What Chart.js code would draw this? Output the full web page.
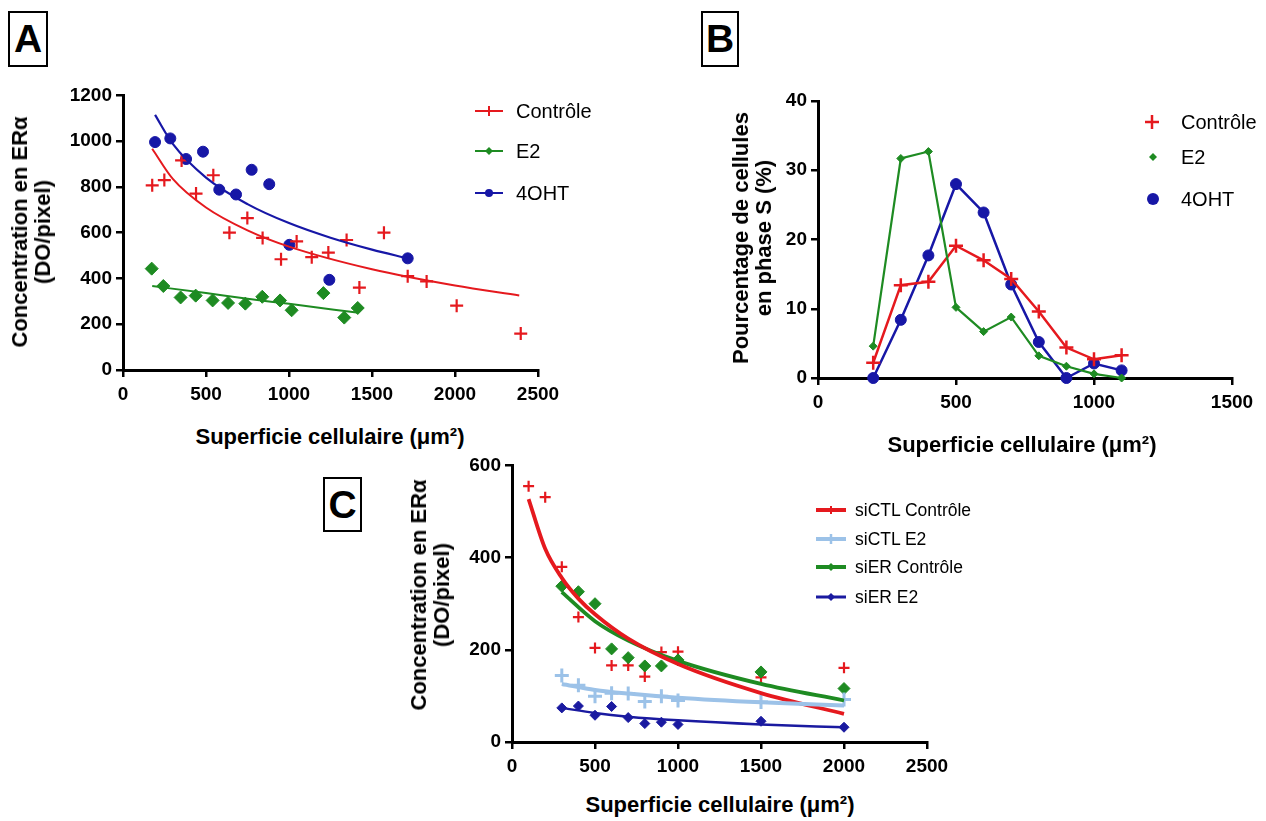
<!DOCTYPE html>
<html>
<head>
<meta charset="utf-8">
<script src="https://cdn.jsdelivr.net/npm/chart.js@4.4.0/dist/chart.umd.min.js"></script>
<style>
  html,body{margin:0;padding:0;background:#fff;}
  body{width:1266px;height:821px;position:relative;overflow:hidden;font-family:"Liberation Sans",Arial,sans-serif;color:#000;}
  canvas{position:absolute;}
  .box{position:absolute;box-sizing:border-box;border:2px solid #000;font-weight:bold;font-size:39px;text-align:center;line-height:51px;}
  .ytitle{position:absolute;font-weight:bold;font-size:22px;line-height:23px;text-align:center;white-space:nowrap;transform:translate(-50%,-50%) rotate(-90deg);}
  .xtitle{position:absolute;font-weight:bold;font-size:22px;white-space:nowrap;transform:translate(-50%,-50%);}
  .leg{position:absolute;white-space:nowrap;transform:translateY(-50%);}
  .legsym{position:absolute;transform:translateY(-50%);}
</style>
</head>
<body>
<div class="box" style="left:8px;top:11px;width:40px;height:56px;">A</div>
<div class="box" style="left:701px;top:11px;width:38px;height:56px;">B</div>
<div class="box" style="left:323px;top:477px;width:39px;height:55px;">C</div>

<canvas id="cA" width="570" height="330" style="left:0px;top:80px;"></canvas>
<canvas id="cB" width="626" height="330" style="left:640px;top:80px;"></canvas>
<canvas id="cC" width="530" height="330" style="left:440px;top:450px;"></canvas>

<div class="ytitle" style="left:31px;top:232px;">Concentration en ERα<br>(DO/pixel)</div>
<div class="xtitle" style="left:330px;top:437px;">Superficie cellulaire (μm²)</div>
<div class="ytitle" style="left:752px;top:238px;">Pourcentage de cellules<br>en phase S (%)</div>
<div class="xtitle" style="left:1022px;top:445px;">Superficie cellulaire (μm²)</div>
<div class="ytitle" style="left:430px;top:595px;">Concentration en ERα<br>(DO/pixel)</div>
<div class="xtitle" style="left:720px;top:805px;">Superficie cellulaire (μm²)</div>

<div id="legends"></div>

<script>
// ---------- Panel A data ----------
const A_ctrl_x = [176,249,353,440,544,641,749,841,952,1046,1137,1237,1347,1424,1572,1715,1829,2010,2396];
const A_ctrl_y = [807,830,916,771,851,600,664,577,484,562,493,513,568,360,600,410,387,281,159];
const A_e2_x = [173,243,347,438,540,633,737,839,946,1016,1207,1333,1414];
const A_e2_y = [443,367,317,325,304,293,290,320,304,261,336,229,271];
const A_oht_x = [193,285,380,482,580,681,775,881,1002,1243,1715];
const A_oht_y = [996,1012,922,954,788,767,875,812,547,394,488];
// fitted curves
const A_ctrlFit_x = [176,300,500,750,1000,1500,2000,2387];
const A_ctrlFit_y = [967,835,710,610,539,440,369,326];
const A_e2Fit_x = [176,500,750,1000,1408];
const A_e2Fit_y = [367,336,311,289,251];
const A_ohtFit_x = [193,300,500,750,1000,1250,1500,1715];
const A_ohtFit_y = [1115,988,841,725,642,578,526,488];

// ---------- Panel B data ----------
const B_sizes = [200,300,400,500,600,700,800,900,1000,1100];
const B_ctrl = [2.2,13.4,13.9,19.1,17.0,14.3,9.6,4.4,2.7,3.3];
const B_e2 = [4.6,31.7,32.7,10.2,6.7,8.8,3.2,1.7,0.6,0];
const B_oht = [0,8.4,17.7,28.0,23.9,13.5,5.2,0,2.1,1.1];

// ---------- Panel C data ----------
const C_ctlCtrl_x = [100,200,300,400,500,600,700,800,900,1000,1500,2000];
const C_ctlCtrl_y = [555,531,380,271,204,166,166,142,195,196,140,161];
const C_sizes = [300,400,500,600,700,800,900,1000,1500,2000];
const C_ctlE2_y = [144,123,99,106,105,88,99,90,87,92];
const C_erCtrl_y = [338,326,300,202,183,165,165,178,152,116];
const C_erE2_y = [74,78,58,77,53,40,43,38,45,32];
const C_ctlCtrlFit_x = [100,200,300,400,500,700,1000,1500,2000];
const C_ctlCtrlFit_y = [527,419,356,311,277,224,169,106,61];
const C_fit_x = [300,500,700,1000,1500,2000];
const C_ctlE2Fit_y = [126,113,105,96,86,79];
const C_erCtrlFit_y = [325,262,220,176,126,90];
const C_erE2Fit_y = [74,63,55,47,38,32];

// ---------- tick labels ----------
const A_xTicks = [0,500,1000,1500,2000,2500];
const A_yTicks = [0,200,400,600,800,1000,1200];
const B_xTicks = [0,500,1000,1500];
const B_yTicks = [0,10,20,30,40];
const C_xTicks = [0,500,1000,1500,2000,2500];
const C_yTicks = [0,200,400,600];

// ---------- colours ----------
const RED = '#E5191E', GREEN = '#1E8B22', BLUE = '#1717A6', LBLUE = '#9CC2E8', DBLUE = '#1A1AA0';

function pts(xs, ys){ return xs.map((x,i)=>({x:x, y:ys[i]})); }

function scaleOpts(ticksArr, fit, isX){
  return {
    type:'linear',
    min: ticksArr[0], max: ticksArr[ticksArr.length-1],
    afterBuildTicks: s => { s.ticks = ticksArr.map(v=>({value:v})); },
    ticks:{ color:'#000', autoSkip:false, padding: isX ? 6 : 4, maxRotation:0,
            callback: v => String(v),
            font:{family:'Liberation Sans', size:19, weight:'bold'} },
    grid:{ display:true, drawOnChartArea:false, drawTicks:true, tickLength:7, color:'#000', lineWidth:2.5 },
    border:{ display:true, color:'#000', width:3 },
    afterFit: s => { if(isX) s.height = fit; else s.width = fit; }
  };
}

function scatterDs(data, color, style, r, bw){
  return { type:'scatter', data:data, showLine:false, pointStyle:style, pointRadius:r,
           pointBorderWidth:bw, pointBackgroundColor:color, pointBorderColor:color, clip:false };
}
function curveDs(data, color, w){
  return { type:'scatter', data:data, showLine:true, borderColor:color, borderWidth:w,
           pointRadius:0, cubicInterpolationMode:'monotone', fill:false, clip:false };
}
function lineMarkDs(data, color, style, r, bw, w){
  return { type:'scatter', data:data, showLine:true, borderColor:color, borderWidth:w, tension:0,
           pointStyle:style, pointRadius:r, pointBorderWidth:bw,
           pointBackgroundColor:color, pointBorderColor:color, clip:false };
}

function makeChart(id, datasets, xT, yT, yW, xH, pad){
  new Chart(document.getElementById(id), {
    type:'scatter',
    data:{ datasets: datasets },
    options:{
      responsive:false, animation:false, devicePixelRatio:1,
      layout:{ padding: pad },
      plugins:{ legend:{display:false}, tooltip:{enabled:false} },
      scales:{ x: scaleOpts(xT, xH, true), y: scaleOpts(yT, yW, false) }
    }
  });
}

// Panel A
makeChart('cA', [
  curveDs(pts(A_e2Fit_x, A_e2Fit_y), GREEN, 2),
  curveDs(pts(A_ctrlFit_x, A_ctrlFit_y), RED, 2),
  curveDs(pts(A_ohtFit_x, A_ohtFit_y), BLUE, 2.2),
  scatterDs(pts(A_e2_x, A_e2_y), GREEN, 'rectRot', 6.5, 1),
  scatterDs(pts(A_ctrl_x, A_ctrl_y), RED, 'cross', 6.5, 2.2),
  scatterDs(pts(A_oht_x, A_oht_y), BLUE, 'circle', 5.5, 1)
], A_xTicks, A_yTicks, 123, 40, {top:14, right:32, left:0, bottom:0});

// Panel B
makeChart('cB', [
  lineMarkDs(pts(B_sizes, B_e2), GREEN, 'rectRot', 4, 1, 2.2),
  lineMarkDs(pts(B_sizes, B_ctrl), RED, 'cross', 7, 2.5, 2.5),
  lineMarkDs(pts(B_sizes, B_oht), BLUE, 'circle', 5.5, 1, 2.5)
], B_xTicks, B_yTicks, 178, 32, {top:21, right:34, left:0, bottom:0});

// Panel C
makeChart('cC', [
  curveDs(pts(C_fit_x, C_erE2Fit_y), DBLUE, 2.5),
  curveDs(pts(C_fit_x, C_ctlE2Fit_y), LBLUE, 4),
  curveDs(pts(C_ctlCtrlFit_x, C_ctlCtrlFit_y), RED, 3.8),
  curveDs(pts(C_fit_x, C_erCtrlFit_y), GREEN, 3.8),
  scatterDs(pts(C_sizes, C_erE2_y), DBLUE, 'rectRot', 5, 1),
  scatterDs(pts(C_sizes, C_ctlE2_y), LBLUE, 'cross', 7, 3),
  scatterDs(pts(C_sizes, C_erCtrl_y), GREEN, 'rectRot', 6, 1),
  scatterDs(pts(C_ctlCtrl_x, C_ctlCtrl_y), RED, 'cross', 5.5, 2.2)
], C_xTicks, C_yTicks, 72, 38, {top:15, right:43, left:0, bottom:0});

// ---------- legends (HTML) ----------
function marker(kind, color, cx, cy, r, sw){
  if(kind==='cross') return `<line x1="${cx-r}" y1="${cy}" x2="${cx+r}" y2="${cy}" stroke="${color}" stroke-width="${sw}"/><line x1="${cx}" y1="${cy-r}" x2="${cx}" y2="${cy+r}" stroke="${color}" stroke-width="${sw}"/>`;
  if(kind==='diamond') return `<polygon points="${cx},${cy-r} ${cx+r},${cy} ${cx},${cy+r} ${cx-r},${cy}" fill="${color}"/>`;
  return `<circle cx="${cx}" cy="${cy}" r="${r}" fill="${color}"/>`;
}
function legendItem(sx, y, label, tx, color, kind, r, sw, lineW, lineLen, fontSize){
  const w = lineLen || 2*r+4, h = 2*r+6;
  let svg = `<svg class="legsym" style="left:${sx}px;top:${y}px" width="${w}" height="${h}">`;
  if(lineLen) svg += `<line x1="0" y1="${h/2}" x2="${w}" y2="${h/2}" stroke="${color}" stroke-width="${lineW}"/>`;
  svg += marker(kind, color, w/2, h/2, r, sw) + `</svg>`;
  return svg + `<div class="leg" style="left:${tx}px;top:${y}px;font-size:${fontSize}px;">${label}</div>`;
}
const A_labels = ['Contrôle','E2','4OHT'];
const B_labels = ['Contrôle','E2','4OHT'];
const C_labels = ['siCTL Contrôle','siCTL E2','siER Contrôle','siER E2'];
let html = '';
html += legendItem(475, 111, A_labels[0], 516, RED, 'cross', 5, 2, 2, 28, 20);
html += legendItem(475, 151, A_labels[1], 516, GREEN, 'diamond', 4, 1, 2, 28, 20);
html += legendItem(475, 193, A_labels[2], 516, BLUE, 'circle', 4, 1, 2, 28, 20);
html += legendItem(1143, 122, B_labels[0], 1181, RED, 'cross', 7, 2.5, 0, 0, 20);
html += legendItem(1147, 157, B_labels[1], 1181, GREEN, 'diamond', 4, 1, 0, 0, 20);
html += legendItem(1145, 199, B_labels[2], 1181, BLUE, 'circle', 6, 1, 0, 0, 20);
html += legendItem(816, 510, C_labels[0], 855, RED, 'cross', 4, 2, 4, 30, 17.5);
html += legendItem(816, 539, C_labels[1], 855, LBLUE, 'cross', 5, 2.5, 4, 30, 17.5);
html += legendItem(816, 567, C_labels[2], 855, GREEN, 'diamond', 4, 1, 4, 30, 17.5);
html += legendItem(816, 597, C_labels[3], 855, DBLUE, 'diamond', 4, 1, 3, 30, 17.5);
document.getElementById('legends').innerHTML = html;
</script>
</body>
</html>
